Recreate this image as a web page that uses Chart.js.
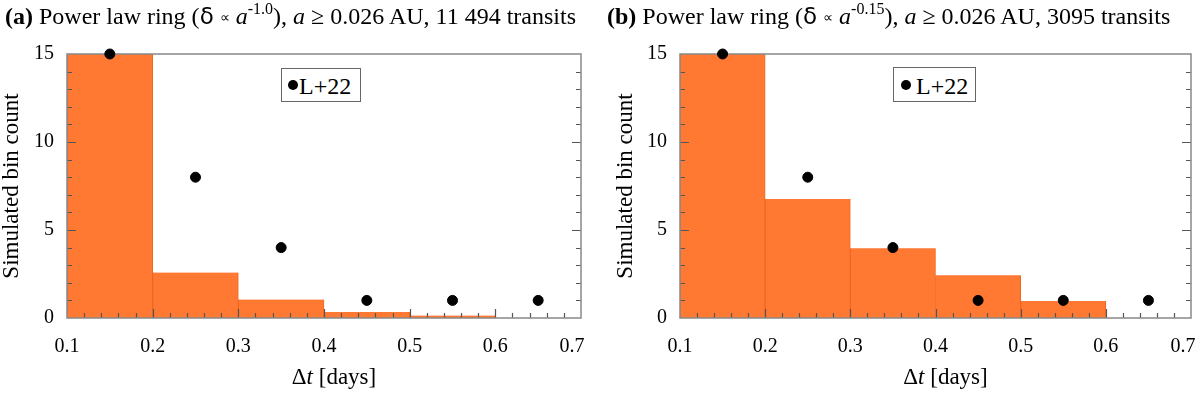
<!DOCTYPE html>
<html>
<head>
<meta charset="utf-8">
<script src="https://cdn.jsdelivr.net/npm/chart.js@4/dist/chart.umd.min.js"></script>
<style>
  html, body { margin:0; padding:0; background:#fff; }
  #wrap { position:relative; width:1200px; height:393px; overflow:hidden; background:#fff; }
  canvas { position:absolute; top:0; }
  .ttl { position:absolute; top:3px; font-family:"Liberation Serif","Times New Roman",serif; font-size:24px; color:#000; white-space:nowrap; }
  .ttl b { font-weight:bold; }
  .ttl .d { font-family:"DejaVu Sans",sans-serif; font-size:23px; }
  .ttl .p { font-size:14px; vertical-align:2px; }
  .ttl sup { font-size:16px; vertical-align:10px; line-height:0; }
  .leg { position:absolute; border:1px solid #666; background:#fff; font-family:"Liberation Serif","Times New Roman",serif; font-size:24px; color:#000; box-sizing:border-box; }
  .leg .dot { position:absolute; width:10px; height:10px; border-radius:50%; background:#000; }
  .leg .txt { position:absolute; line-height:1; }
</style>
</head>
<body>
<div id="wrap">
  <canvas id="cA" width="600" height="393" style="left:0px"></canvas>
  <canvas id="cB" width="600" height="393" style="left:600px"></canvas>
  <div class="ttl" style="left:5px"><b>(a)</b> Power law ring (<span class="d">δ</span> <span class="p">∝</span> <i>a</i><sup>-1.0</sup>), <i>a</i> ≥ 0.026 AU, 11 494 transits</div>
  <div class="ttl" style="left:607px"><b>(b)</b> Power law ring (<span class="d">δ</span> <span class="p">∝</span> <i>a</i><sup>-0.15</sup>), <i>a</i> ≥ 0.026 AU, 3095 transits</div>
  <div class="leg" style="left:281px; top:68px; width:80px; height:34px;"><div class="dot" style="left:6px; top:11px;"></div><div class="txt" style="left:17px; top:5px;">L+22</div></div>
  <div class="leg" style="left:893px; top:67px; width:83px; height:35px;"><div class="dot" style="left:7px; top:12px;"></div><div class="txt" style="left:22px; top:6px;">L+22</div></div>
</div>
<script>
// ---- data ----
const binCenters = [0.15, 0.25, 0.35, 0.45, 0.55, 0.65];
const countsA = [15, 2.58, 1.05, 0.34, 0.14, 0];
const countsB = [15, 6.76, 3.97, 2.43, 0.97, 0];
const obsX = [0.15, 0.25, 0.35, 0.45, 0.55, 0.65];
const obsY = [15, 8, 4, 1, 1, 1];
const xTickLabels = ['0.1','0.2','0.3','0.4','0.5','0.6','0.7'];
const yTickLabels = ['0','5','10','15'];
const xMin = 0.1, xMax = 0.7, xMajor = 0.1, xMinor = 0.02;
const yMin = 0, yMax = 15, yMajor = 5, yMinor = 1;

const SERIF = '"Liberation Serif","Times New Roman",serif';

const frameTicks = {
  id: 'frameTicks',
  beforeDraw(chart) {
    // nudge the last x tick label inward, as in the original figure
    const sx = chart.scales.x;
    const items = sx.getLabelItems(chart.chartArea);
    const last = items[items.length - 1];
    if (last && !last._shifted) {
      last.options.translation[0] -= chart.options.lastLabelShift || 0;
      last._shifted = true;
    }
  },
  afterDatasetDraw(chart, args) {
    if (args.meta.type !== 'bar') return;
    const {ctx, chartArea: {left, right, top, bottom}, scales: {x, y}} = chart;
    ctx.save();
    ctx.strokeStyle = '#555';
    ctx.lineWidth = 1.2;
    ctx.beginPath();
    const nx = Math.round((xMax - xMin) / xMinor);
    const per = Math.round(xMajor / xMinor);
    for (let i = 1; i < nx; i++) {
      const px = Math.round(x.getPixelForValue(xMin + i * xMinor)) + 0.5;
      const len = (i % per === 0) ? 9 : 5;
      ctx.moveTo(px, bottom); ctx.lineTo(px, bottom - len);
    }
    const ny = Math.round((yMax - yMin) / yMinor);
    const pery = Math.round(yMajor / yMinor);
    for (let j = 1; j < ny; j++) {
      const py = Math.round(y.getPixelForValue(yMin + j * yMinor)) + 0.5;
      const len = (j % pery === 0) ? 9 : 5;
      ctx.moveTo(left, py); ctx.lineTo(left + len, py);
      ctx.moveTo(right, py); ctx.lineTo(right - len, py);
    }
    ctx.stroke();
    ctx.strokeStyle = '#888';
    ctx.lineWidth = 1.5;
    ctx.strokeRect(left, top, right - left, bottom - top);
    ctx.restore();
  }
};

const xTitle = {
  id: 'xTitle',
  afterDraw(chart) {
    const {ctx, chartArea: {left, right}} = chart;
    const parts = [
      {t: 'Δ', f: '23px ' + SERIF},
      {t: 't', f: 'italic 23px ' + SERIF},
      {t: ' [days]', f: '23px ' + SERIF}
    ];
    ctx.save();
    let w = 0;
    parts.forEach(p => { ctx.font = p.f; p.w = ctx.measureText(p.t).width; w += p.w; });
    let cx = (left + right) / 2 + 10 - w / 2;
    ctx.fillStyle = '#000';
    ctx.textBaseline = 'middle';
    ctx.textAlign = 'left';
    parts.forEach(p => { ctx.font = p.f; ctx.fillText(p.t, cx, 378); cx += p.w; });
    ctx.restore();
  }
};

function makeChart(id, counts, padLeft, yWidth, padRight, shift) {
  return new Chart(document.getElementById(id), {
    type: 'bar',
    data: {
      datasets: [
        {
          type: 'scatter',
          label: 'L+22',
          data: obsX.map((v, i) => ({x: v, y: obsY[i]})),
          backgroundColor: '#000',
          borderColor: '#000',
          pointRadius: 5,
          pointHoverRadius: 5,
          showLine: false,
          clip: false,
          order: 0
        },
        {
          type: 'bar',
          label: 'Simulated',
          data: binCenters.map((v, i) => ({x: v, y: counts[i]})),
          backgroundColor: '#ff7933',
          borderColor: '#f0661e',
          borderWidth: {left: 1, right: 1, top: 0, bottom: 0},
          borderSkipped: false,
          barPercentage: 1,
          categoryPercentage: 1,
          order: 1
        }
      ]
    },
    options: {
      responsive: false,
      animation: false,
      events: [],
      lastLabelShift: shift,
      layout: {padding: {left: padLeft, right: padRight, top: 54, bottom: 0}},
      plugins: {legend: {display: false}, tooltip: {enabled: false}, title: {display: false}},
      scales: {
        x: {
          type: 'linear',
          min: xMin, max: xMax,
          offset: false,
          grid: {display: false, drawTicks: false},
          border: {display: false},
          ticks: {
            stepSize: xMajor,
            padding: 17,
            color: '#000',
            font: {family: SERIF, size: 20},
            maxRotation: 0,
            callback: (v) => {
              const k = Math.round((v - xMin) / xMajor);
              return xTickLabels[k] !== undefined ? xTickLabels[k] : '';
            }
          },
          afterFit: (s) => { s.height = 75; s.paddingLeft = 0; s.paddingRight = 0; }
        },
        y: {
          type: 'linear',
          min: yMin, max: yMax,
          grid: {display: false, drawTicks: false},
          border: {display: false},
          ticks: {
            stepSize: yMajor,
            padding: 13,
            color: '#000',
            font: {family: SERIF, size: 20},
            callback: (v) => {
              const k = Math.round((v - yMin) / yMajor);
              return yTickLabels[k] !== undefined ? yTickLabels[k] : '';
            }
          },
          title: {
            display: true,
            text: 'Simulated bin count',
            color: '#000',
            font: {family: SERIF, size: 23, lineHeight: 1},
            padding: 0
          },
          afterFit: (s) => { s.width = yWidth; s.paddingTop = 0; s.paddingBottom = 0; }
        }
      }
    },
    plugins: [frameTicks, xTitle]
  });
}

makeChart('cA', countsA, 0, 67, 19, 9);
makeChart('cB', countsB, 14, 66, 9, 8);
</script>
</body>
</html>
